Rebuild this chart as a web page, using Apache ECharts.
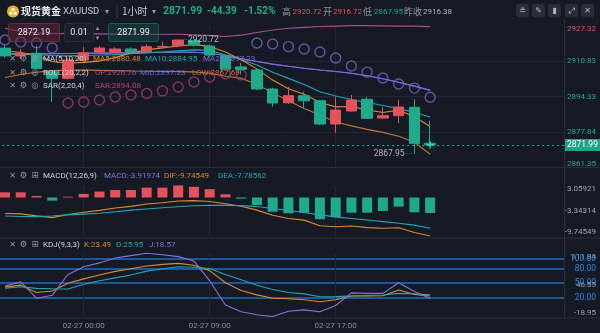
<!DOCTYPE html>
<html>
<head>
<meta charset="utf-8">
<script src="https://cdn.jsdelivr.net/npm/echarts@6/dist/echarts.min.js"></script>
<style>
html,body{margin:0;padding:0;background:#161a25;}
#c{width:600px;height:333px;}
</style>
</head>
<body>
<div id="c"></div>
<script>
// ---- hourly bars, XAUUSD spot gold ----
const times = ['02-26 19:00','02-26 20:00','02-26 21:00','02-26 22:00','02-26 23:00',
  '02-27 00:00','02-27 01:00','02-27 02:00','02-27 03:00','02-27 04:00','02-27 05:00',
  '02-27 07:00','02-27 08:00','02-27 09:00','02-27 10:00','02-27 11:00','02-27 12:00',
  '02-27 13:00','02-27 14:00','02-27 15:00','02-27 16:00','02-27 17:00','02-27 18:00',
  '02-27 19:00','02-27 20:00','02-27 21:00','02-27 22:00','02-27 23:00'];
// empty slots kept to the right of the last bar
const futureTimes = ['02-28 00:00','02-28 01:00','02-28 02:00','02-28 03:00',
  '02-28 04:00','02-28 05:00','02-28 07:00','02-28 08:00'];
const axisTimeLabels = ['02-27 00:00','02-27 09:00','02-27 17:00'];

const opens  = [2916.8,2913.2,2914.39,2905.88,2902.82,2911.3,2915.0,2915.0,2916.39,2915.14,2917.3,2917.91,2920.3,2917.77,2913.4,2908.1,2906.66,2897.87,2891.52,2894.77,2892.45,2881.66,2887.68,2893.10,2884.44,2885.51,2889.39,2872.73];
const closes = [2913.2,2914.4,2907.45,2902.82,2911.29,2914.6,2916.85,2916.39,2915.0,2917.45,2917.6,2920.55,2918.24,2913.6,2907.0,2906.9,2897.87,2891.39,2894.77,2892.45,2881.66,2888.15,2892.77,2884.30,2885.51,2889.53,2872.73,2871.99];
const lows   = [2912.4,2911.8,2906.9,2891.85,2902.3,2910.5,2914.2,2914.6,2914.3,2914.6,2916.7,2917.2,2917.5,2912.9,2906.4,2904.6,2897.4,2889.67,2891.0,2888.61,2881.2,2877.65,2887.4,2884.0,2883.98,2882.13,2867.95,2871.5];
const highs  = [2918.4,2916.3,2917.9,2906.5,2912.2,2917.3,2917.8,2917.2,2917.1,2918.6,2919.8,2920.72,2920.6,2918.5,2913.9,2910.0,2907.2,2898.47,2898.93,2896.62,2892.8,2894.30,2895.09,2894.30,2889.53,2892.77,2893.10,2883.19];

const ma5  = [2915.6,2914.8,2913.2,2910.6,2909.8,2910.2,2910.8,2912.4,2914.6,2916.0,2916.9,2917.8,2918.4,2917.6,2915.0,2911.4,2907.2,2902.0,2898.0,2895.4,2891.6,2889.6,2889.8,2888.2,2887.0,2888.1,2885.0,2880.48];
const ma10 = [2914.2,2914.0,2913.8,2913.4,2913.2,2913.4,2913.6,2913.8,2914.2,2914.6,2915.0,2915.6,2916.0,2915.8,2913.6,2911.4,2909.0,2905.6,2902.8,2900.0,2896.6,2894.6,2893.0,2891.6,2890.2,2888.8,2887.0,2884.95];
const ma20 = [2914.0,2914.1,2914.2,2914.2,2914.3,2914.4,2914.5,2914.6,2914.7,2914.8,2914.9,2915.0,2914.9,2914.4,2913.4,2912.0,2910.6,2909.4,2908.4,2907.5,2906.7,2906.0,2905.2,2904.0,2902.6,2901.0,2899.2,2897.23];
const bollUp  = [2926.0,2924.5,2923.8,2923.6,2923.5,2923.5,2923.4,2923.3,2923.2,2923.2,2923.2,2923.2,2923.0,2922.6,2922.2,2922.8,2924.0,2925.2,2926.0,2926.4,2926.8,2927.0,2927.2,2927.2,2927.1,2927.0,2927.0,2926.76];
const bollMid = ma20.slice();
const bollLow = [2903.2,2904.6,2905.6,2906.4,2906.6,2906.6,2906.5,2906.4,2906.2,2906.1,2906.0,2905.9,2905.8,2905.2,2903.8,2902.9,2900.0,2896.2,2892.4,2888.8,2885.8,2882.6,2880.8,2879.2,2877.8,2876.0,2873.2,2867.69];
const sar = [2920.55,2919.6,2919.2,2916.85,2891.4,2891.85,2892.8,2894.2,2895.1,2895.8,2897.0,2898.8,2901.1,2903.4,2904.8,2904.4,2919.2,2918.7,2917.5,2916.4,2915.0,2912.2,2908.5,2905.7,2903.0,2900.2,2898.3,2894.08];

const macdHist = [1.3,1.3,0.4,-0.8,0.2,0.9,1.5,1.9,1.9,2.5,2.5,3.05921,2.7,2.1,0.8,-0.3,-1.9,-3.6,-4.0,-3.85,-5.5,-5.0,-3.85,-3.85,-3.4,-2.3,-3.75,-3.91974];
const dif = [-4.05,-4.15,-4.65,-5.1,-4.3,-3.75,-3.25,-2.65,-2.25,-1.65,-1.35,-0.9,-0.8,-1.0,-1.6,-2.2,-3.2,-4.5,-5.3,-5.73,-7.15,-7.4,-7.23,-7.63,-7.8,-7.65,-8.88,-9.74549];
const dea = [-4.7,-4.8,-4.85,-4.7,-4.4,-4.2,-4.0,-3.6,-3.2,-2.9,-2.6,-2.35,-2.1,-2.0,-2.0,-2.05,-2.3,-2.8,-3.3,-3.8,-4.4,-4.9,-5.3,-5.7,-6.1,-6.5,-7.0,-7.78562];

const kLine = [42,46,31,34,50,59,67,74.5,80,85.5,89,91,87,76,51,35,26,19,18,16,11.7,16,23.5,23.5,24,35.9,27,23.49];
const dLine = [39.5,42.7,39.4,38.5,38.0,48,55,61,67,75,80,84,83,80.5,68,57,46,37,31,28,22.1,22.3,23.5,24.5,25.6,29.1,28.3,25.95];
const jLine = [44,53,19,25,68,84,92,102,107,111.84,109,105,96,55,5,-9,-15,-18.95,-8,-5,-9,4,30,29,29,51,33,18.57];

const priceTicks = [2861.35,2877.84,2894.33,2910.83,2927.32];
const macdTicks = [-9.74549,-3.34314,3.05921];
const kdjTicks = [-18.95,46.55,111.84];
const kdjLevels = [20,50,80,100];

const prevClose = 2916.38;
const dayOpen = 2916.72;

// ---- colours ----
const UP = '#e4525b', DOWN = '#1eab8c';
const C_MA5 = '#d98b2b', C_MA10 = '#26a3b3', C_MA20 = '#8069dc';
const C_UP = '#b04a98', C_MID = '#5468e0', C_LOW = '#c2742e';
const C_SAR_LOW = '#a63a74', C_SAR_HIGH = '#7a63c7';
const C_J = '#8a72d8', C_LEVEL = '#1f6cc0';
const GRID = '#232734', SEP = '#2a2e39', TXT = '#d1d4dc', MUTED = '#9598a1';
const FONT = 'Roboto, "Noto Sans", sans-serif';
const CJK = '"Noto Sans CJK SC", sans-serif';

const cats = times.concat(futureTimes);
const n = times.length;
const last = a => a[a.length - 1];
const f2 = v => v.toFixed(2);
const lastClose = last(closes);
const dayHigh = Math.max(...highs);
const dayLow = Math.min(...lows);
const hiIdx = highs.indexOf(dayHigh);
const loIdx = lows.indexOf(dayLow);
const change = lastClose - prevClose;

const candleData = times.map((t, i) => [opens[i], closes[i], lows[i], highs[i]]);

const chart = echarts.init(document.getElementById('c'), null, {width: 600, height: 333});

function txt(x, y, text, fill, font, align) {
  return {type: 'text', x: x, y: y, z: 100, silent: true,
    style: {text: text, fill: fill, font: font, align: align || 'left', verticalAlign: 'middle',
            textAlign: align || 'left', textVerticalAlign: 'middle'}};
}
function hline(y) {
  return {type: 'line', z: 90, silent: true, shape: {x1: 0, y1: y, x2: 600, y2: y}, style: {stroke: SEP, lineWidth: 1}};
}

const graphics = [];
// panel separators
graphics.push(hline(167.5), hline(238), hline(318));
graphics.push({type: 'line', z: 90, silent: true, shape: {x1: 564.5, y1: 20, x2: 564.5, y2: 318}, style: {stroke: SEP, lineWidth: 1}});

// header bar
graphics.push({type: 'circle', z: 100, shape: {cx: 13, cy: 11.5, r: 6}, style: {fill: '#e9b424'}});
graphics.push({type: 'circle', z: 101, shape: {cx: 13, cy: 9.6, r: 1.6}, style: {fill: '#fff'}});
graphics.push({type: 'circle', z: 101, shape: {cx: 10.8, cy: 13.2, r: 1.6}, style: {fill: '#fff'}});
graphics.push({type: 'circle', z: 101, shape: {cx: 15.2, cy: 13.2, r: 1.6}, style: {fill: '#fff'}});
graphics.push(txt(21, 11.5, '现货黄金', '#e8eaf0', 'bold 10px ' + CJK));
graphics.push(txt(63, 11.5, 'XAUUSD', '#c3c6ce', '9.5px ' + FONT));
graphics.push(txt(105, 11.5, '▾', MUTED, '8px ' + FONT));
graphics.push({type: 'line', z: 100, shape: {x1: 117, y1: 5, x2: 117, y2: 18}, style: {stroke: '#3a3e4a', lineWidth: 1}});
graphics.push(txt(122, 11.5, '1小时', '#c3c6ce', '10px ' + CJK));
graphics.push(txt(152, 11.5, '▾', MUTED, '8px ' + FONT));
graphics.push(txt(163, 11.5, f2(lastClose), DOWN, 'bold 10.5px ' + FONT));
graphics.push(txt(207, 11.5, f2(change), DOWN, 'bold 10px ' + FONT));
graphics.push(txt(244, 11.5, (change / prevClose * 100).toFixed(2) + '%', DOWN, 'bold 10px ' + FONT));
graphics.push(txt(282, 11.5, '高', MUTED, '9px ' + CJK));
graphics.push(txt(292.5, 11.5, f2(dayHigh), UP, '8px ' + FONT));
graphics.push(txt(323, 11.5, '开', MUTED, '9px ' + CJK));
graphics.push(txt(333, 11.5, f2(dayOpen), UP, '8px ' + FONT));
graphics.push(txt(363, 11.5, '低', MUTED, '9px ' + CJK));
graphics.push(txt(374, 11.5, f2(dayLow), DOWN, '8px ' + FONT));
graphics.push(txt(404, 11.5, '昨收', MUTED, '9px ' + CJK));
graphics.push(txt(423, 11.5, f2(prevClose), '#b2b5be', '8px ' + FONT));
// toolbar buttons
const btnGlyphs = ['≗', '✎', '▮', '⤢', '✕'];
[516, 532, 548, 565, 581].forEach((bx, k) => {
  graphics.push({type: 'rect', z: 100, shape: {x: bx, y: 4, width: 13, height: 13, r: 2}, style: {fill: '#2a2e39'}});
  graphics.push(txt(bx + 6.5, 10.5, btnGlyphs[k], '#b2b5be', '8px "DejaVu Sans"', 'center'));
});

// order panel boxes
graphics.push({type: 'rect', z: 95, shape: {x: 8.5, y: 23.5, width: 51, height: 18, r: 2}, style: {fill: 'rgba(110,40,55,0.45)', stroke: '#6a2c3c', lineWidth: 1}});
graphics.push(txt(34, 33, '2872.19', '#e6e8ee', '9px ' + FONT, 'center'));
graphics.push({type: 'rect', z: 95, shape: {x: 64.5, y: 23.5, width: 29, height: 18, r: 2}, style: {fill: 'rgba(28,32,44,0.9)', stroke: '#2a2e39', lineWidth: 1}});
graphics.push(txt(79, 33, '0.01', '#e6e8ee', '9px ' + FONT, 'center'));
graphics.push(txt(97.5, 28.5, '▴', MUTED, '7px "DejaVu Sans"', 'center'));
graphics.push(txt(97.5, 38, '▾', MUTED, '7px "DejaVu Sans"', 'center'));
graphics.push({type: 'rect', z: 95, shape: {x: 108.5, y: 23.5, width: 50, height: 18, r: 2}, style: {fill: 'rgba(25,80,72,0.45)', stroke: '#1d5b52', lineWidth: 1}});
graphics.push(txt(133.5, 33, f2(lastClose), '#e6e8ee', '9px ' + FONT, 'center'));

// indicator legends
function iconRow(y, third) {
  graphics.push(txt(12.5, y, '✕', MUTED, '8px "DejaVu Sans"', 'center'));
  graphics.push(txt(23.5, y, '⚙', MUTED, '8.5px "DejaVu Sans"', 'center'));
  graphics.push(txt(35, y, third, MUTED, '8.5px "DejaVu Sans"', 'center'));
}
const LF = '8px ' + FONT;
iconRow(59, '◎');
graphics.push(txt(43, 59, 'MA(5,10,20)', TXT, LF));
graphics.push(txt(93, 59, 'MA5:' + f2(last(ma5)), C_MA5, LF));
graphics.push(txt(145, 59, 'MA10:' + f2(last(ma10)), C_MA10, LF));
graphics.push(txt(203, 59, 'MA20:' + f2(last(ma20)), C_MA20, LF));
iconRow(72.7, '◎');
graphics.push(txt(43, 72.7, 'BOLL(20,2,2)', TXT, LF));
graphics.push(txt(95, 72.7, 'UP:' + f2(last(bollUp)), C_UP, LF));
graphics.push(txt(140, 72.7, 'MID:' + f2(last(bollMid)), C_MID, LF));
graphics.push(txt(192, 72.7, 'LOW:' + f2(last(bollLow)), C_LOW, LF));
iconRow(86, '◎');
graphics.push(txt(43, 86, 'SAR(2,20,4)', TXT, LF));
graphics.push(txt(95, 86, 'SAR:' + f2(last(sar)), '#c23c7c', LF));

iconRow(176, '⊞');
graphics.push(txt(43, 176, 'MACD(12,26,9)', TXT, LF));
graphics.push(txt(104, 176, 'MACD:' + last(macdHist).toFixed(5), C_J, LF));
graphics.push(txt(164, 176, 'DIF:' + last(dif).toFixed(5), C_MA5, LF));
graphics.push(txt(218, 176, 'DEA:' + last(dea).toFixed(5), C_MA10, LF));

iconRow(245, '⊞');
graphics.push(txt(43, 245, 'KDJ(9,3,3)', TXT, LF));
graphics.push(txt(84, 245, 'K:' + f2(last(kLine)), C_MA5, LF));
graphics.push(txt(116, 245, 'D:' + f2(last(dLine)), C_MA10, LF));
graphics.push(txt(149, 245, 'J:' + f2(last(jLine)), C_J, LF));

const markIdx = axisTimeLabels.map(t => times.indexOf(t));

function xAxisFor(gi) {
  return {
    type: 'category', gridIndex: gi, data: cats, boundaryGap: true,
    axisLine: {show: false}, axisTick: {show: false},
    axisLabel: gi === 2 ? {
      show: true, interval: (idx) => markIdx.indexOf(idx) >= 0, color: '#8b8e96',
      fontSize: 8, fontFamily: FONT, margin: 5
    } : {show: false},
    splitLine: {show: true, interval: (idx) => markIdx.indexOf(idx) >= 0, alignWithLabel: true,
      lineStyle: {color: GRID, width: 1}}
  };
}

function yAxisFor(gi, min, max, ticks, opts) {
  return Object.assign({
    type: 'value', gridIndex: gi, position: 'right', min: min, max: max,
    axisLine: {show: false},
    axisTick: {show: false, customValues: ticks},
    axisLabel: {
      customValues: ticks, align: 'right', margin: 32, fontSize: 8, fontFamily: FONT,
      verticalAlignMaxLabel: 'top', verticalAlignMinLabel: 'bottom',
      color: '#a3a6ae', formatter: v => f2(v)
    },
    splitLine: {show: false}
  }, opts || {});
}

const mainY = yAxisFor(0, priceTicks[0], last(priceTicks), priceTicks);
mainY.axisLabel.color = (v) => (Number(v) > prevClose ? UP : DOWN);
mainY.splitLine = {show: true, showMinLine: false, showMaxLine: false, lineStyle: {color: GRID}};

const macdY = yAxisFor(1, macdTicks[0], last(macdTicks), macdTicks);
macdY.axisLabel.formatter = v => Number(v).toFixed(5);

const kdjY = yAxisFor(2, kdjTicks[0], last(kdjTicks), kdjTicks);
const kdjLevelY = yAxisFor(2, kdjTicks[0], last(kdjTicks), kdjLevels);
kdjLevelY.axisLabel = {customValues: kdjLevels, align: 'right', margin: 32, fontSize: 8.5,
  fontFamily: FONT, color: '#2d86e0', formatter: v => f2(v)};
kdjLevelY.splitLine = {show: true, lineStyle: {color: C_LEVEL, width: 1.5}};

function lineSeries(data, color, xi, yi, z) {
  return {type: 'line', data: data, xAxisIndex: xi, yAxisIndex: yi, symbol: 'none',
    lineStyle: {color: color, width: 1.1}, itemStyle: {color: color}, z: z || 3, silent: true};
}

const option = {
  animation: false,
  backgroundColor: '#161a25',
  textStyle: {fontFamily: FONT},
  grid: [
    {left: -2.9, right: 36, top: 25.4, height: 142.5, outerBoundsMode: 'none'},
    {left: -2.9, right: 36, top: 185.4, height: 50.6, outerBoundsMode: 'none'},
    {left: -2.9, right: 36, top: 253.3, height: 63.3, outerBoundsMode: 'none'}
  ],
  xAxis: [xAxisFor(0), xAxisFor(1), xAxisFor(2)],
  yAxis: [mainY, macdY, kdjY, kdjLevelY],
  graphic: graphics,
  series: [
    lineSeries(bollUp, C_UP, 0, 0, 2),
    lineSeries(bollLow, C_LOW, 0, 0, 2),
    lineSeries(bollMid, C_MID, 0, 0, 2),
    lineSeries(ma20, C_MA20, 0, 0, 2),
    lineSeries(ma10, C_MA10, 0, 0, 2),
    lineSeries(ma5, C_MA5, 0, 0, 2),
    {
      type: 'candlestick', xAxisIndex: 0, yAxisIndex: 0, data: candleData, barWidth: 11, z: 4,
      itemStyle: {color: UP, color0: DOWN, borderColor: UP, borderColor0: DOWN, borderWidth: 1},
      markLine: {
        silent: true, symbol: 'none', animation: false,
        data: [{yAxis: lastClose}],
        lineStyle: {type: [2, 3], color: DOWN, width: 1},
        label: {position: 'end', distance: 0, formatter: f2(lastClose), backgroundColor: '#1aa588',
          color: '#fff', padding: [2, 3, 1, 3], fontSize: 8.5, fontFamily: FONT}
      },
      markPoint: {
        silent: true, symbol: 'circle', symbolSize: 1, itemStyle: {color: 'rgba(0,0,0,0)'},
        data: [
          {coord: [hiIdx, dayHigh], label: {show: true, position: 'right', distance: 3,
            formatter: '{d|···}{v|' + f2(dayHigh) + '}',
            rich: {d: {color: '#6d707a', fontSize: 8}, v: {color: '#b2b5be', fontSize: 8.5, fontFamily: FONT}}}},
          {coord: [loIdx, dayLow], label: {show: true, position: 'left', distance: 1,
            formatter: '{v|' + f2(dayLow) + '}{d|····}',
            rich: {d: {color: '#6d707a', fontSize: 8}, v: {color: '#b2b5be', fontSize: 8.5, fontFamily: FONT}}}}
        ]
      }
    },
    {
      type: 'scatter', xAxisIndex: 0, yAxisIndex: 0, symbol: 'circle', symbolSize: 10, z: 5, silent: true,
      data: sar.map((v, i) => ({value: [i, v], itemStyle: {color: 'rgba(0,0,0,0)',
        borderColor: v < closes[i] ? C_SAR_LOW : C_SAR_HIGH, borderWidth: 1.4}}))
    },
    {
      type: 'scatter', xAxisIndex: 0, yAxisIndex: 0, z: 6, silent: true,
      symbol: 'path://M4,0H6V4H10V6H6V10H4V6H0V4H4Z', symbolSize: 7,
      itemStyle: {color: '#48e8bd', shadowBlur: 8, shadowColor: '#1eab8c'},
      data: [[n - 1, lastClose]]
    },
    {
      type: 'bar', xAxisIndex: 1, yAxisIndex: 1, barWidth: 10, silent: true,
      data: macdHist.map(v => ({value: v, itemStyle: {color: v >= 0 ? UP : DOWN}}))
    },
    lineSeries(dif, C_MA5, 1, 1, 4),
    lineSeries(dea, C_MA10, 1, 1, 4),
    lineSeries(kLine, C_MA5, 2, 2, 4),
    lineSeries(dLine, C_MA10, 2, 2, 4),
    lineSeries(jLine, C_J, 2, 2, 4)
  ]
};
chart.setOption(option);
</script>
</body>
</html>
